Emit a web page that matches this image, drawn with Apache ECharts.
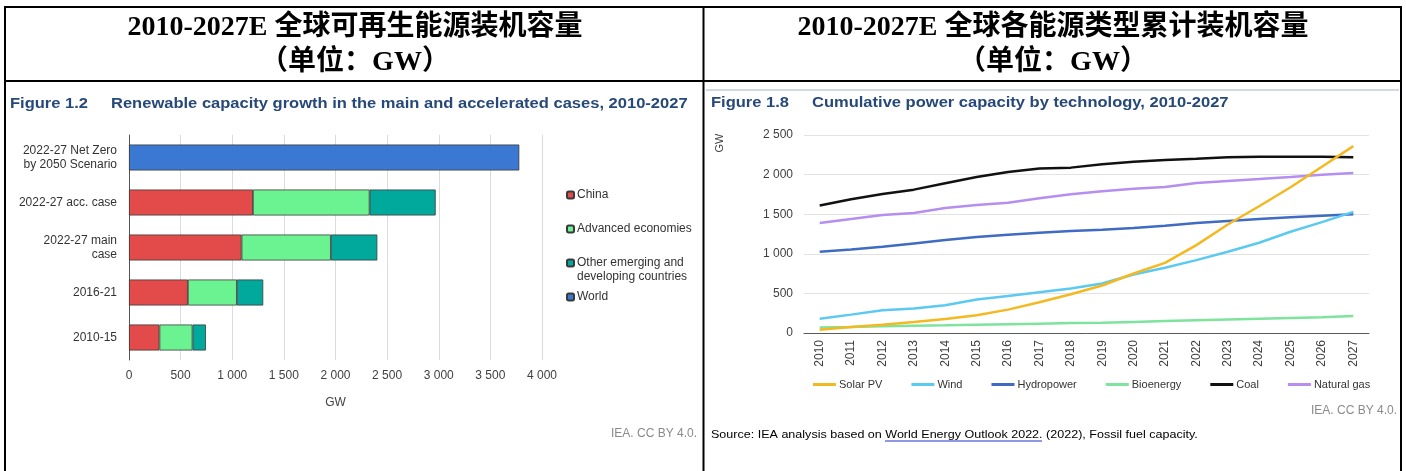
<!DOCTYPE html>
<html>
<head>
<meta charset="utf-8">
<script src="https://cdn.jsdelivr.net/npm/echarts@6/dist/echarts.min.js"></script>
<style>
html,body{margin:0;padding:0;background:#fff;}
#c{width:1406px;height:471px;}
</style>
</head>
<body>
<div id="c"></div>
<script>
// ---- Left chart data (GW) ----
const caseCategories = ['2022-27 Net Zero\nby 2050 Scenario', '2022-27 acc. case', '2022-27 main\ncase', '2016-21', '2010-15'];
const chinaValues    = [null, 1200, 1090, 570, 295];
const advancedValues = [null, 1130, 865, 475, 320];
const otherValues    = [null, 640, 450, 255, 130];
const worldValues    = [3780, null, null, null, null];
const xTicksLeft     = [0, 500, 1000, 1500, 2000, 2500, 3000, 3500, 4000];

// ---- Right chart data (GW) ----
const years = ['2010','2011','2012','2013','2014','2015','2016','2017','2018','2019','2020','2021','2022','2023','2024','2025','2026','2027'];
const solarPV    = [40, 76, 105, 139, 177, 224, 295, 388, 490, 600, 751, 886, 1110, 1370, 1600, 1840, 2100, 2360];
const wind       = [180, 232, 287, 308, 350, 422, 468, 515, 561, 625, 738, 823, 920, 1025, 1139, 1279, 1400, 1530];
const hydropower = [1025, 1055, 1089, 1131, 1173, 1211, 1240, 1266, 1287, 1304, 1325, 1354, 1388, 1414, 1440, 1460, 1480, 1500];
const bioenergy  = [68, 75, 85, 92, 98, 105, 112, 118, 125, 130, 140, 150, 160, 170, 180, 190, 200, 215];
const coal       = [1610, 1690, 1755, 1810, 1890, 1970, 2034, 2077, 2088, 2132, 2162, 2184, 2200, 2218, 2226, 2226, 2226, 2218];
const naturalGas = [1390, 1440, 1490, 1515, 1577, 1616, 1645, 1700, 1752, 1790, 1820, 1842, 1893, 1919, 1944, 1970, 1998, 2020];
const yTicksRight = [0, 500, 1000, 1500, 2000, 2500];

const thousands = v => String(v).replace(/\B(?=(\d{3})+(?!\d))/g, ' ');
const FONT = 'Liberation Sans, Arial, sans-serif';
const TITLE_FONT = 'Liberation Serif, "Noto Sans CJK SC", serif';
const navy = '#27497a';

const chart = echarts.init(document.getElementById('c'), null, {renderer: 'canvas'});

const barStyle = c => ({color: c, borderColor: '#3a3a3a', borderWidth: 0.8});
const smallLegend = (name, top, extra) => Object.assign({
  data: [name], orient: 'vertical', left: 566, top: top, padding: 0, itemWidth: 7, itemHeight: 7,
  textStyle: {fontSize: 12, color: '#333', padding: [0, 0, 0, -2], lineHeight: 14}
}, extra || {});

const option = {
  animation: false,
  textStyle: {fontFamily: FONT},
  grid: [
    {left: 129, top: 135, width: 413, height: 225, containLabel: false},
    {left: 804, top: 135, width: 565, height: 198, containLabel: false}
  ],
  xAxis: [
    {
      gridIndex: 0, type: 'value', min: xTicksLeft[0], max: xTicksLeft[xTicksLeft.length - 1], interval: 500,
      name: 'GW', nameLocation: 'middle', nameGap: 37,
      nameTextStyle: {fontSize: 12, color: '#404040', fontFamily: FONT},
      axisLine: {show: false}, axisTick: {show: false},
      axisLabel: {fontSize: 12, color: '#404040', margin: 10, formatter: thousands},
      splitLine: {show: true, lineStyle: {color: '#dcdcdc', width: 1}}
    },
    {
      gridIndex: 1, type: 'category', data: years, boundaryGap: true,
      axisLine: {show: true, lineStyle: {color: '#5a5a5a', width: 1}},
      axisTick: {show: false},
      axisLabel: {fontSize: 12, color: '#404040', rotate: 90, margin: 7, interval: 0},
      splitLine: {show: false}
    }
  ],
  yAxis: [
    {
      gridIndex: 0, type: 'category', data: caseCategories, inverse: true,
      axisLine: {show: true, lineStyle: {color: '#555', width: 1}},
      axisTick: {show: false},
      axisLabel: {fontSize: 12, color: '#333', margin: 12, lineHeight: 14, align: 'right'}
    },
    {
      gridIndex: 1, type: 'value', min: yTicksRight[0], max: yTicksRight[yTicksRight.length - 1], interval: 500,
      axisLine: {show: false}, axisTick: {show: false},
      axisLabel: {fontSize: 12, color: '#404040', margin: 11, formatter: thousands},
      splitLine: {show: true, lineStyle: {color: '#e2e2e2', width: 1}}
    }
  ],
  legend: [
    smallLegend('China', 188),
    smallLegend('Advanced economies', 222),
    smallLegend('Other emerging and developing countries', 242, {
      formatter: () => '\nOther emerging and\ndeveloping countries'
    }),
    smallLegend('World', 290),
    {data: ['Solar PV', 'Wind', 'Hydropower', 'Bioenergy', 'Coal', 'Natural gas'],
     orient: 'horizontal', left: 813, top: 379, padding: 0, itemWidth: 23, itemHeight: 3, itemGap: 29,
     icon: 'rect', textStyle: {fontSize: 11, color: '#333', padding: [0, 0, 0, -2]}}
  ],
  series: [
    {name: 'China', type: 'bar', stack: 'a', xAxisIndex: 0, yAxisIndex: 0, barWidth: 26, data: chinaValues, itemStyle: barStyle('#e34b4a')},
    {name: 'Advanced economies', type: 'bar', stack: 'a', xAxisIndex: 0, yAxisIndex: 0, barWidth: 26, data: advancedValues, itemStyle: barStyle('#6cf391')},
    {name: 'Other emerging and developing countries', type: 'bar', stack: 'a', xAxisIndex: 0, yAxisIndex: 0, barWidth: 26, data: otherValues, itemStyle: barStyle('#00a99c')},
    {name: 'World', type: 'bar', stack: 'a', xAxisIndex: 0, yAxisIndex: 0, barWidth: 26, data: worldValues, itemStyle: barStyle('#3b78d2')},

    {name: 'Solar PV', type: 'line', xAxisIndex: 1, yAxisIndex: 1, data: solarPV, symbol: 'none', lineStyle: {width: 2.5, color: '#f4b920'}, itemStyle: {color: '#f4b920'}, z: 5},
    {name: 'Wind', type: 'line', xAxisIndex: 1, yAxisIndex: 1, data: wind, symbol: 'none', lineStyle: {width: 2.5, color: '#5cc9f0'}, itemStyle: {color: '#5cc9f0'}, z: 4},
    {name: 'Hydropower', type: 'line', xAxisIndex: 1, yAxisIndex: 1, data: hydropower, symbol: 'none', lineStyle: {width: 2.5, color: '#3f6cc2'}, itemStyle: {color: '#3f6cc2'}, z: 3},
    {name: 'Bioenergy', type: 'line', xAxisIndex: 1, yAxisIndex: 1, data: bioenergy, symbol: 'none', lineStyle: {width: 2.5, color: '#7ee39c'}, itemStyle: {color: '#7ee39c'}, z: 3},
    {name: 'Coal', type: 'line', xAxisIndex: 1, yAxisIndex: 1, data: coal, symbol: 'none', lineStyle: {width: 2.5, color: '#111111'}, itemStyle: {color: '#111111'}, z: 3},
    {name: 'Natural gas', type: 'line', xAxisIndex: 1, yAxisIndex: 1, data: naturalGas, symbol: 'none', lineStyle: {width: 2.5, color: '#b58ef0'}, itemStyle: {color: '#b58ef0'}, z: 3}
  ],
  graphic: [
    // table frame
    {type: 'line', shape: {x1: 4, y1: 7, x2: 1402, y2: 7}, style: {stroke: '#000', lineWidth: 2}, silent: true},
    {type: 'line', shape: {x1: 4, y1: 81, x2: 1402, y2: 81}, style: {stroke: '#000', lineWidth: 2}, silent: true},
    {type: 'line', shape: {x1: 5, y1: 6, x2: 5, y2: 471}, style: {stroke: '#000', lineWidth: 2}, silent: true},
    {type: 'line', shape: {x1: 703.5, y1: 6, x2: 703.5, y2: 471}, style: {stroke: '#000', lineWidth: 2}, silent: true},
    {type: 'line', shape: {x1: 1401, y1: 6, x2: 1401, y2: 471}, style: {stroke: '#000', lineWidth: 2}, silent: true},
    {type: 'line', shape: {x1: 706, y1: 90, x2: 1399, y2: 90}, style: {stroke: '#9fb1c8', lineWidth: 1}, silent: true},
    // Chinese titles
    {type: 'text', x: 355, y: 28, style: {text: '2010-2027E 全球可再生能源装机容量', font: 'bold 28px ' + TITLE_FONT, fill: '#000', align: 'center', verticalAlign: 'middle'}},
    {type: 'text', x: 355, y: 63, style: {text: '（单位：GW）', font: 'bold 28px ' + TITLE_FONT, fill: '#000', align: 'center', verticalAlign: 'middle'}},
    {type: 'text', x: 1053, y: 28, style: {text: '2010-2027E 全球各能源类型累计装机容量', font: 'bold 28px ' + TITLE_FONT, fill: '#000', align: 'center', verticalAlign: 'middle'}},
    {type: 'text', x: 1053, y: 63, style: {text: '（单位：GW）', font: 'bold 28px ' + TITLE_FONT, fill: '#000', align: 'center', verticalAlign: 'middle'}},
    // figure titles
    {type: 'text', x: 10, y: 104, scaleX: 1.18, style: {text: 'Figure 1.2     Renewable capacity growth in the main and accelerated cases, 2010-2027', font: 'bold 14px ' + FONT, fill: navy, verticalAlign: 'middle'}},
    {type: 'text', x: 711, y: 103, scaleX: 1.18, style: {text: 'Figure 1.8     Cumulative power capacity by technology, 2010-2027', font: 'bold 14px ' + FONT, fill: navy, verticalAlign: 'middle'}},
    // GW rotated label on right chart
    {type: 'text', x: 720, y: 143, rotation: Math.PI / 2, style: {text: 'GW', font: '11px ' + FONT, fill: '#404040', align: 'center', verticalAlign: 'middle'}},
    // credits
    {type: 'text', x: 697, y: 434, style: {text: 'IEA. CC BY 4.0.', font: '12px ' + FONT, fill: '#8a8a8a', align: 'right', verticalAlign: 'middle'}},
    {type: 'text', x: 1397, y: 411, style: {text: 'IEA. CC BY 4.0.', font: '12px ' + FONT, fill: '#8a8a8a', align: 'right', verticalAlign: 'middle'}},
    {type: 'text', x: 711, y: 435, scaleX: 1.14, style: {
      text: '{a|Source: IEA analysis based on }{b|World Energy Outlook 2022.}{a| (2022), Fossil fuel capacity.}',
      verticalAlign: 'middle',
      rich: {a: {fontSize: 11, fontFamily: FONT, color: '#55607a'}, b: {fontSize: 11, fontFamily: FONT, color: '#2233cc'}}
    }},
    {type: 'line', shape: {x1: 885, y1: 441, x2: 1042, y2: 441}, style: {stroke: '#2233cc', lineWidth: 1}, silent: true}
  ]
};
chart.setOption(option);
</script>
</body>
</html>
